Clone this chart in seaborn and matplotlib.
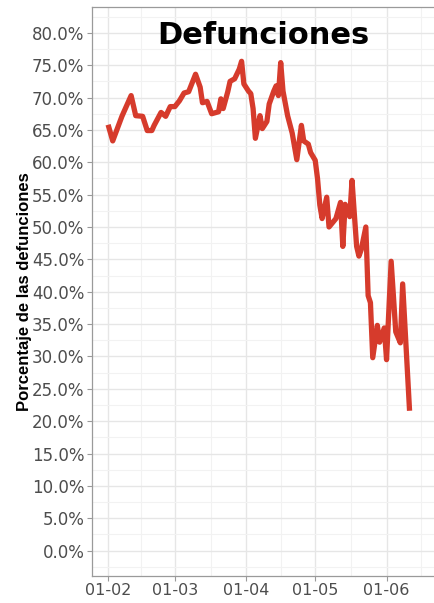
import matplotlib
matplotlib.use("Agg")
import matplotlib.pyplot as plt
import matplotlib.dates as mdates
from matplotlib.ticker import FuncFormatter, MultipleLocator, FixedLocator
import seaborn as sns
import pandas as pd

# values (% of deaths)
dates = ["2020-02-01", "2020-02-03", "2020-02-07", "2020-02-11", "2020-02-13",
         "2020-02-16", "2020-02-18", "2020-02-20", "2020-02-21", "2020-02-24",
         "2020-02-26", "2020-02-28", "2020-03-01", "2020-03-03", "2020-03-05",
         "2020-03-07", "2020-03-10", "2020-03-12", "2020-03-13", "2020-03-15",
         "2020-03-17", "2020-03-20", "2020-03-21", "2020-03-22", "2020-03-24",
         "2020-03-25", "2020-03-27", "2020-03-29", "2020-03-30", "2020-03-31",
         "2020-04-02", "2020-04-03", "2020-04-04", "2020-04-05", "2020-04-07",
         "2020-04-08", "2020-04-10", "2020-04-11", "2020-04-13", "2020-04-14",
         "2020-04-15", "2020-04-16", "2020-04-17", "2020-04-19", "2020-04-21",
         "2020-04-23", "2020-04-25", "2020-04-26", "2020-04-28", "2020-04-29",
         "2020-05-01", "2020-05-02", "2020-05-03", "2020-05-04", "2020-05-06",
         "2020-05-07", "2020-05-10", "2020-05-12", "2020-05-13", "2020-05-14",
         "2020-05-16", "2020-05-17", "2020-05-18", "2020-05-19", "2020-05-20",
         "2020-05-21", "2020-05-23", "2020-05-24", "2020-05-25", "2020-05-26",
         "2020-05-28", "2020-05-29", "2020-05-31", "2020-06-01", "2020-06-03",
         "2020-06-05", "2020-06-07", "2020-06-08", "2020-06-11"]
porcentaje = [65.8, 63.3, 67.1, 70.3, 67.2,
              67.1, 64.9, 64.9, 65.7, 67.7,
              67.1, 68.6, 68.6, 69.5, 70.7,
              70.9, 73.6, 71.6, 69.2, 69.4,
              67.5, 67.8, 69.8, 68.3, 70.9,
              72.5, 72.9, 74.4, 75.6, 72.1,
              71.0, 70.6, 68.3, 63.7, 67.2,
              65.2, 66.3, 69.0, 71.0, 71.8,
              70.3, 75.4, 71.0, 67.2, 64.5,
              60.4, 65.7, 63.3, 62.8, 61.5,
              60.3, 57.5, 53.4, 51.3, 54.6,
              50.0, 51.3, 53.8, 47.0, 53.5,
              51.6, 57.2, 52.0, 47.0, 45.5,
              46.5, 50.0, 39.4, 38.3, 29.8,
              34.8, 32.2, 34.4, 29.5, 44.7,
              33.8, 32.1, 41.2, 21.6]

df = pd.DataFrame({"fecha": pd.to_datetime(dates), "porcentaje": porcentaje})

sns.set_theme(style="whitegrid")
plt.rcParams["font.family"] = ["DejaVu Sans"]

fig = plt.figure(figsize=(4.34, 6.03), dpi=100)
ax = fig.add_axes([0.212, 0.044, 0.79, 0.9445])

sns.lineplot(data=df, x="fecha", y="porcentaje", ax=ax, color="#d63b2c",
             linewidth=3.8, solid_capstyle="butt")

ax.set_xlim(pd.Timestamp("2020-01-25"), pd.Timestamp("2020-06-22"))
ax.set_ylim(-4, 84)

ax.yaxis.set_major_locator(MultipleLocator(5))
ax.yaxis.set_minor_locator(MultipleLocator(2.5))
ax.yaxis.set_major_formatter(FuncFormatter(lambda v, p: f"{v:.1f}%"))

month_starts = pd.to_datetime(["2020-02-01", "2020-03-01", "2020-04-01",
                               "2020-05-01", "2020-06-01", "2020-07-01"])
ax.xaxis.set_major_locator(FixedLocator(mdates.date2num(month_starts[:-1])))
mids = (mdates.date2num(month_starts[:-1]) + mdates.date2num(month_starts[1:])) / 2
ax.xaxis.set_minor_locator(FixedLocator(mids))
ax.xaxis.set_major_formatter(mdates.DateFormatter("%d-%m"))

ax.set_facecolor("white")
ax.grid(which="major", color="#e6e6e6", linewidth=1.0)
ax.grid(which="minor", color="#f2f2f2", linewidth=0.8)
ax.set_axisbelow(True)
for side in ["left", "top", "bottom"]:
    ax.spines[side].set_color("#9a9a9a")
    ax.spines[side].set_linewidth(0.9)
ax.spines["right"].set_visible(False)

ax.tick_params(axis="both", which="major", labelsize=12, labelcolor="#4d4d4d",
               color="#9a9a9a", length=3.5, width=0.8, left=True, bottom=True)
ax.tick_params(axis="y", which="major", pad=2)
ax.tick_params(axis="x", which="major", pad=1, labelsize=11.5)
ax.tick_params(axis="both", which="minor", length=0)

ax.set_xlabel("")
ax.set_ylabel("Porcentaje de las defunciones", fontsize=12, fontweight="bold",
              color="black", family=["Liberation Sans", "DejaVu Sans"])
ax.yaxis.set_label_coords(-0.174, 0.5)

ax.text(0.50, 0.975, "Defunciones", transform=ax.transAxes, ha="center", va="top",
        fontsize=22, fontweight="bold", color="black")

fig.savefig("out.png", dpi=100)
